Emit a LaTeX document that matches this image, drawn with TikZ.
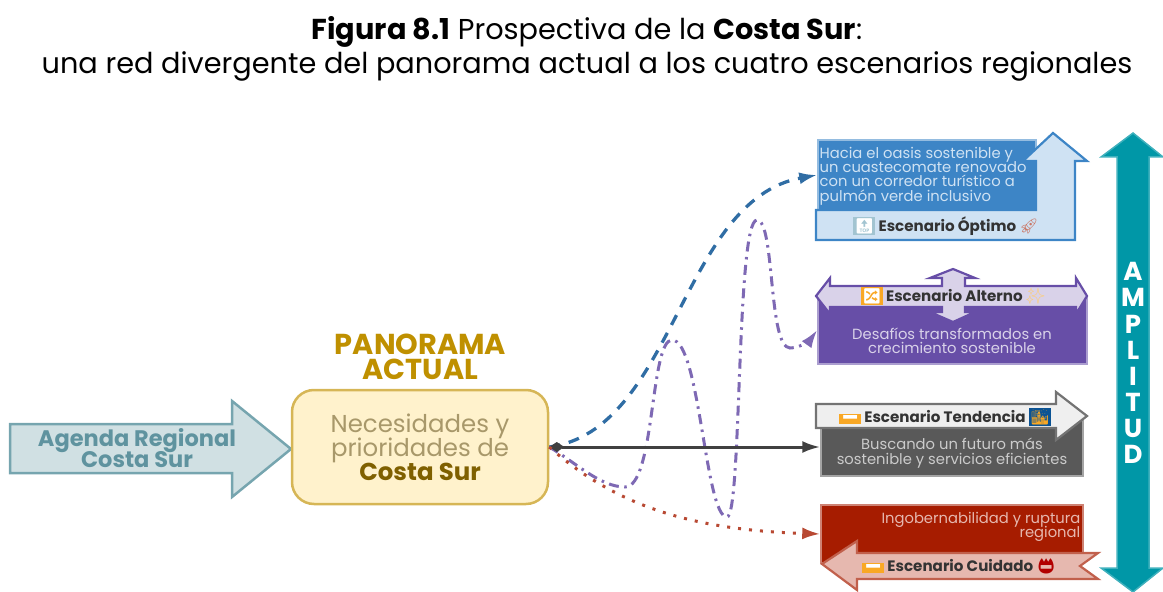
\documentclass[tikz,border=0pt]{standalone}
\usepackage{fontspec}
\usepackage{amsmath}
\usetikzlibrary{arrows.meta}
\setmainfont{Poppins}
\newfontfamily\emofont{Noto Emoji}
\lineskiplimit=-5pt
\newcommand{\icon}[3]{{\setlength{\fboxsep}{0.4pt}\colorbox{#1}{\emofont\textcolor{#2}{#3}}}}
\newcommand{\emo}[2]{{\emofont\textcolor{#1}{#2}}}
\definecolor{blueDark}{HTML}{3D85C6}
\definecolor{blueLine}{HTML}{0B5394}
\definecolor{blueSoft}{HTML}{CFE2F3}
\definecolor{purpleDark}{HTML}{674EA7}
\definecolor{purpleSoft}{HTML}{D9D2E9}
\definecolor{greyDark}{HTML}{595959}
\definecolor{greySoft}{HTML}{EFEFEF}
\definecolor{redDark}{HTML}{A61C00}
\definecolor{redSoft}{HTML}{E6B8AF}
\definecolor{tealDark}{HTML}{0097A7}
\definecolor{tealSoft}{HTML}{D0E0E3}
\definecolor{tealLine}{HTML}{76A5AF}
\definecolor{tealText}{HTML}{5F939F}
\definecolor{goldLine}{HTML}{D6B656}
\definecolor{goldSoft}{HTML}{FFF2CC}
\definecolor{goldDark}{HTML}{BF9000}
\definecolor{goldText}{HTML}{A8986A}
\definecolor{brownText}{HTML}{7F6000}
\definecolor{iconOrange}{HTML}{F9A825}

\begin{document}
\begin{tikzpicture}
        [x=1cm,y=-1cm,every node/.style={inner sep=0,align=center},
        box/.style={draw=#1!55,fill=#1,line width=0.15mm},
        tag/.style={line width=0.22mm,line join=miter},
        head/.style={font=\fontsize{4.3pt}{5pt}\selectfont\bfseries,text=black!80},
        small/.style={font=\fontsize{4.2pt}{4.1pt}\selectfont},
        link/.style={line width=0.3mm,-{Latex[length=1.8mm,width=1.2mm]}}]

        \useasboundingbox (0,0) rectangle (11.63,5.92);

        % title
        \node[font=\fontsize{8.18pt}{9pt}\selectfont] (title1) at (5.87,0.32) {\textbf{Figura 8.1} Prospectiva de la \textbf{Costa Sur}:};
        \node[font=\fontsize{8.18pt}{9pt}\selectfont] (title2) at (5.87,0.66) {una red divergente del panorama actual a los cuatro escenarios regionales};

        % left side
        \draw[draw=tealLine,fill=tealSoft,line width=0.25mm] (0.10,4.24) -- (2.32,4.24) -- (2.32,4.01) -- (2.91,4.49) -- (2.32,4.97) -- (2.32,4.73) -- (0.10,4.73) -- cycle;
        \node[font=\fontsize{6.4pt}{6.2pt}\selectfont\bfseries,text=tealText] (agenda) at (1.37,4.48) {Agenda Regional\\Costa Sur};

        \node[font=\fontsize{8.2pt}{7.2pt}\selectfont\bfseries,text=goldDark] (actual) at (4.205,3.565) {PANORAMA\\ACTUAL};
        \node[draw=goldLine,fill=goldSoft,line width=0.25mm,rounded corners=0.22cm,minimum width=2.56cm,minimum height=1.14cm,font=\fontsize{6.95pt}{6.8pt}\selectfont,text=goldText] (panorama) at (4.20,4.47) {Necesidades y\\prioridades de\\\textcolor{brownText}{\textbf{Costa Sur}}};

        % scenario boxes
        \node[box=blueDark,minimum width=2.18cm,minimum height=0.70cm] (optimo) at (9.27,1.75) {};
        \node[box=purpleDark,minimum width=2.69cm,minimum height=0.68cm] (alterno) at (9.525,3.30) {};
        \node[box=greyDark,minimum width=2.62cm,minimum height=0.58cm] (tendencia) at (9.52,4.47) {};
        \node[box=redDark,minimum width=2.62cm,minimum height=0.58cm] (cuidado) at (9.52,5.34) {};

        % callouts
        \draw[tag,draw=blueDark,fill=blueSoft] (8.16,2.10) -- (10.36,2.10) -- (10.36,1.61) -- (10.23,1.61) -- (10.53,1.33) -- (10.87,1.61) -- (10.75,1.61) -- (10.75,2.40) -- (8.16,2.40) -- cycle;
        \draw[tag,draw=purpleDark,fill=purpleSoft] (8.16,2.96) -- (8.30,2.78) -- (8.30,2.86) -- (9.42,2.86) -- (9.42,2.78) -- (9.30,2.78) -- (9.53,2.69) -- (9.75,2.78) -- (9.65,2.78) -- (9.65,2.86) -- (10.76,2.86) -- (10.76,2.78) -- (10.87,2.96) -- (10.76,3.14) -- (10.76,3.07) -- (9.65,3.07) -- (9.65,3.12) -- (9.75,3.12) -- (9.53,3.22) -- (9.30,3.12) -- (9.42,3.12) -- (9.42,3.07) -- (8.30,3.07) -- (8.30,3.14) -- cycle;
        \draw[tag,draw=black!55,fill=greySoft] (8.16,4.04) -- (10.56,4.04) -- (10.56,3.92) -- (10.87,4.16) -- (10.56,4.40) -- (10.56,4.28) -- (8.16,4.28) -- cycle;
        \draw[tag,draw=redDark!70,fill=redSoft] (8.22,5.64) -- (8.57,5.41) -- (8.57,5.53) -- (10.98,5.53) -- (10.80,5.66) -- (10.98,5.79) -- (8.57,5.79) -- (8.57,5.90) -- cycle;

        % amplitude arrow
        \draw[draw=tealDark!75,fill=tealDark,line width=0.15mm] (11.33,1.33) -- (11.63,1.57) -- (11.49,1.57) -- (11.49,5.68) -- (11.63,5.68) -- (11.33,5.92) -- (11.01,5.68) -- (11.17,5.68) -- (11.17,1.57) -- (11.01,1.57) -- cycle;
        \node[font=\fontsize{7.4pt}{7.42pt}\selectfont\bfseries,text=white] (amplitud) at (11.33,3.63) {A\\M\\P\\L\\I\\T\\U\\D};

        % scenario texts
        \node[small,align=left,anchor=west,text=blueSoft] (optimoText) at (8.19,1.76) {Hacia el oasis sostenible y\\un cuastecomate renovado\\con un corredor turístico a\\pulmón verde inclusivo};
        \node[head] (optimoTag) at (9.46,2.26) {\icon{blueSoft!50!tealLine}{white}{🔝} Escenario Óptimo \emo{redDark!60}{🚀}};
        \node[head] (alternoTag) at (9.53,2.96) {\icon{iconOrange}{white}{🔀} Escenario Alterno \emo{goldSoft!50!iconOrange}{✨}};
        \node[small,text=purpleSoft] (alternoText) at (9.52,3.41) {Desafíos transformados en\\crecimiento sostenible};
        \node[head] (tendenciaTag) at (9.45,4.17) {\icon{iconOrange}{white}{➖} Escenario Tendencia \icon{blueLine}{iconOrange}{🌆}};
        \node[small,text=greySoft!85!black] (tendenciaText) at (9.52,4.53) {Buscando un futuro más\\sostenible y servicios eficientes};
        \node[small,align=right,anchor=east,text=redSoft] (cuidadoText) at (10.81,5.27) {Ingobernabilidad y ruptura\\regional};
        \node[head] (cuidadoTag) at (9.59,5.66) {\icon{iconOrange}{white}{➖} Escenario Cuidado \emo{red!70!black}{📛}};

        % waypoints of the purple line
        \coordinate (p1) at (6.25,4.87);
        \coordinate (p2) at (6.72,3.40);
        \coordinate (p3) at (7.27,5.17);
        \coordinate (p4) at (7.57,2.20);
        \coordinate (p5) at (7.90,3.48);

        \draw[link,draw=blueLine!85,dash pattern=on 1.1mm off 0.9mm,line width=0.33mm] (panorama.east) .. controls (6.75,4.30) and (6.80,2.00) .. (optimo.west);
        \draw[link,draw=purpleDark!85,dash pattern=on 1mm off 0.55mm on 0.25mm off 0.55mm] (panorama.east) .. controls (5.75,4.62) and (6.00,4.87) .. (p1) .. controls (6.55,4.87) and (6.50,3.40) .. (p2) .. controls (7.00,3.40) and (7.05,5.17) .. (p3) .. controls (7.42,5.17) and (7.36,2.20) .. (p4) .. controls (7.75,2.20) and (7.68,3.48) .. (p5) .. controls (8.00,3.48) and (8.10,3.40) .. (alterno.west);
        \draw[link,draw=black!75,{Diamond[length=1.5mm,width=1mm]}-{Latex[length=1.8mm,width=1.2mm]}] (panorama.east) -- (tendencia.west);
        \draw[link,draw=redDark!80,dash pattern=on 0.3mm off 0.8mm] (panorama.east) .. controls (6.20,5.10) and (7.00,5.30) .. (cuidado.west);

      \end{tikzpicture}
\end{document}
